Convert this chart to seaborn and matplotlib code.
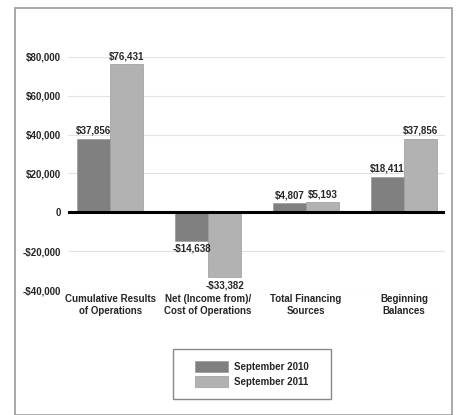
import pandas as pd
import seaborn as sns
import matplotlib.pyplot as plt
from matplotlib.patches import Rectangle

categories = ["Cumulative Results\nof Operations", "Net (Income from)/\nCost of Operations",
              "Total Financing\nSources", "Beginning\nBalances"]
sep_2010 = [37856, -14638, 4807, 18411]
sep_2011 = [76431, -33382, 5193, 37856]
series = ["September 2010", "September 2011"]

df = pd.DataFrame({
    "category": categories * 2,
    "value": sep_2010 + sep_2011,
    "period": [series[0]] * 4 + [series[1]] * 4,
})

sns.set_style("white")
plt.rcParams["font.family"] = ["Liberation Sans", "DejaVu Sans"]
plt.rcParams["font.weight"] = "bold"

fig = plt.figure(figsize=(4.57, 4.15), dpi=100)
ax = fig.add_axes([0.149, 0.301, 0.825, 0.562])

palette = {series[0]: "#808080", series[1]: "#b2b2b2"}
sns.barplot(data=df, x="category", y="value", hue="period", palette=palette,
            width=0.67, ax=ax, saturation=1, legend=True, edgecolor="#9a9a9a", linewidth=0.5)

ax.set_ylim(-40000, 80000)
ax.set_xlim(-0.43, 3.42)
ax.set_yticks(range(-40000, 80001, 20000))
ax.set_yticklabels(["-$40,000", "-$20,000", "0", "$20,000", "$40,000", "$60,000", "$80,000"])
ax.yaxis.grid(True, color="#e2e2e2", linewidth=0.8)
ax.set_axisbelow(True)
ax.axhline(0, color="black", linewidth=2.2, zorder=5)
for s in ax.spines.values():
    s.set_visible(False)
ax.tick_params(axis="both", length=0, labelsize=7, pad=3)
ax.tick_params(axis="y", pad=5)
ax.set_xlabel("")
ax.set_ylabel("")

# value labels
for cont in ax.containers:
    labels = [f"${v:,.0f}" if v >= 0 else f"-${-v:,.0f}" for v in cont.datavalues]
    ax.bar_label(cont, labels=labels, fontsize=7, padding=2, clip_on=False)

# legend without its own frame; box drawn separately (wider than tall padding)
leg = ax.legend(loc="center", bbox_to_anchor=(0.5514, 0.0988),
                bbox_transform=fig.transFigure, frameon=False,
                fontsize=7, handlelength=3.4, handleheight=1.35, borderpad=0,
                labelspacing=0.4, handletextpad=0.6)
fig.patches.append(Rectangle((173 / 457, 16 / 415), 158 / 457, 50 / 415,
                             transform=fig.transFigure, fill=False,
                             edgecolor="#888888", linewidth=1.0))

fig.patches.append(Rectangle((15 / 457, 0.0), 437 / 457, 1 - 8 / 415,
                             transform=fig.transFigure, fill=False,
                             edgecolor="#9a9a9a", linewidth=1.2))

fig.savefig("out.png", dpi=100)
